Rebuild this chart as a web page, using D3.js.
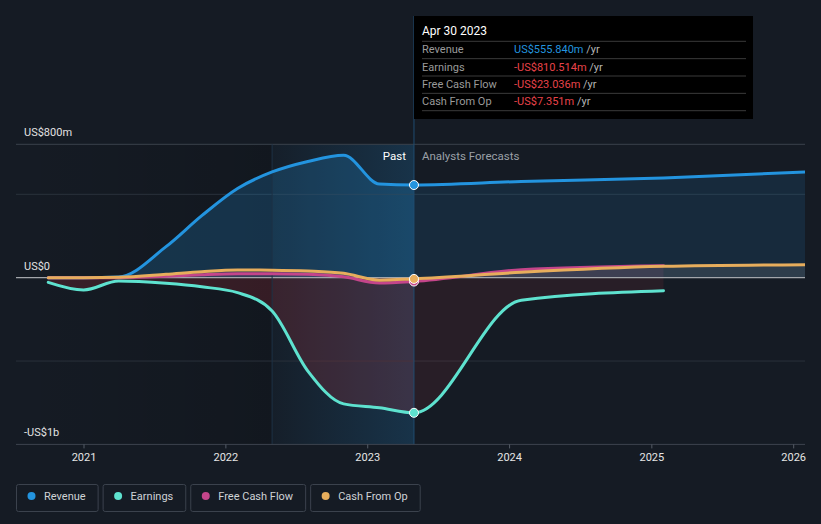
<!DOCTYPE html>
<html>
<head>
<meta charset="utf-8">
<script src="https://cdn.jsdelivr.net/npm/d3@7"></script>
<style>
  html, body { margin: 0; padding: 0; background: #151b24; }
  svg { display: block; font-family: Roboto, "Noto Sans", sans-serif; }
</style>
</head>
<body>
<svg id="chart" width="821" height="524"></svg>
<script>
// ---------- data ----------
const pastDates = ["2020-10-01","2020-12-31","2021-03-31","2021-07-31","2021-10-31","2022-01-31","2022-04-30","2022-07-31","2022-10-31","2023-01-31","2023-04-30"];
const revenuePast  = [0, 0, 4, 186, 372, 535, 634, 697, 734, 562, 555.84];
const earningsPast = [-28, -74, -20, -34, -55, -90, -200, -560, -757, -780, -810.514];
const fcfPast      = [0, 0, 0, 8, 18, 24, 24, 20, 5, -32, -23.036];
const cfoPast      = [0, 0, 2, 20, 36, 46, 45, 40, 26, -15, -7.351];

const revenueForecastDates = ["2023-04-30","2024-01-31","2025-01-31","2026-01-31"];
const revenueForecast      = [555.84, 577, 598, 634];
const earningsForecastDates = ["2023-04-30","2024-01-31","2025-01-31"];
const earningsForecast      = [-810.514, -135, -78];
const fcfForecastDates = ["2023-04-30","2024-01-31","2025-01-31"];
const fcfForecast      = [-23.036, 48, 72];
const cfoForecastDates = ["2023-04-30","2024-01-31","2025-01-31","2026-01-31"];
const cfoForecast      = [-7.351, 32, 68, 78];

const yearTicks = ["2021","2022","2023","2024","2025","2026"];
const yLabelValues = [800, 0, -1000];
const yLabelTexts = ["US$800m", "US$0", "-US$1b"];
const yGridValues = [800, 500, -500];

const seriesNames = ["Revenue", "Earnings", "Free Cash Flow", "Cash From Op"];
const seriesColors = ["#2394df", "#5ee2cf", "#c4458a", "#e7ad5c"];

const tooltipDate = "Apr 30 2023";
const tooltipValues = ["US$555.840m", "-US$810.514m", "-US$23.036m", "-US$7.351m"];
const currentDate = "2023-04-30";
const highlightStart = "2022-04-30";

// ---------- setup ----------
const parse = d3.timeParse("%Y-%m-%d");
const svg = d3.select("#chart");
const L = 16, R = 805, TOP = 144.3, BOT = 444.4;

const x = d3.scaleTime()
  .domain([parse("2021-01-01"), parse("2026-01-01")])
  .range([84, 793.7]);
const y = d3.scaleLinear().domain([-1000, 800]).range([BOT, TOP]);

const defs = svg.append("defs");
defs.append("clipPath").attr("id", "plotClip").append("rect")
  .attr("x", L).attr("y", 0).attr("width", R - L).attr("height", 524);
defs.append("clipPath").attr("id", "pastClip").append("rect")
  .attr("x", L).attr("y", 0).attr("width", x(parse(currentDate)) - L).attr("height", 524);
defs.append("clipPath").attr("id", "futClip").append("rect")
  .attr("x", x(parse(currentDate))).attr("y", 0).attr("width", R - x(parse(currentDate))).attr("height", 524);

const gDark = defs.append("linearGradient").attr("id", "gDark").attr("x1", 0).attr("x2", 1).attr("y1", 0).attr("y2", 0);
gDark.append("stop").attr("offset", 0).attr("stop-color", "#000").attr("stop-opacity", 0);
gDark.append("stop").attr("offset", 1).attr("stop-color", "#000").attr("stop-opacity", 0.14);

const gHi = defs.append("linearGradient").attr("id", "gHi").attr("x1", 0).attr("x2", 1).attr("y1", 0).attr("y2", 0);
gHi.append("stop").attr("offset", 0).attr("stop-color", "#2394df").attr("stop-opacity", 0.03);
gHi.append("stop").attr("offset", 1).attr("stop-color", "#2394df").attr("stop-opacity", 0.2);

const mk = (dates, vals) => dates.map((d, i) => ({ d: parse(d), v: vals[i] }));
const series = [
  mk(pastDates, revenuePast).concat(mk(revenueForecastDates, revenueForecast).slice(1)),
  mk(pastDates, earningsPast).concat(mk(earningsForecastDates, earningsForecast).slice(1)),
  mk(pastDates, fcfPast).concat(mk(fcfForecastDates, fcfForecast).slice(1)),
  mk(pastDates, cfoPast).concat(mk(cfoForecastDates, cfoForecast).slice(1))
];

const line = d3.line().x(p => x(p.d)).y(p => y(p.v)).curve(d3.curveMonotoneX);
const area = d3.area().x(p => x(p.d)).y0(y(0)).y1(p => y(p.v)).curve(d3.curveMonotoneX);

// ---------- background regions ----------
const xHs = x(parse(highlightStart)), xCur = x(parse(currentDate));
svg.append("rect").attr("x", L).attr("y", TOP).attr("width", xHs - L).attr("height", BOT - TOP).attr("fill", "url(#gDark)");
svg.append("rect").attr("x", xHs).attr("y", TOP).attr("width", xCur - xHs).attr("height", BOT - TOP).attr("fill", "url(#gHi)");

// gridlines
svg.append("g").selectAll("line").data(yGridValues).join("line")
  .attr("x1", L).attr("x2", R).attr("y1", d => y(d)).attr("y2", d => y(d))
  .attr("stroke", (d, i) => i === 0 ? "#3a414c" : "#2a313b").attr("stroke-width", 1);

// ---------- fills ----------
const fillCols = ["#2394df", "#d83a42", "#c4458a", "#fff0dc"];
const pastOp = [0.22, 0.18, 0.1, 0.06];
const futOp = [0.13, 0.1, 0.1, 0.1];
const fills = svg.append("g").attr("clip-path", "url(#plotClip)");
series.forEach((s, i) => {
  fills.append("path").attr("d", area(s)).attr("fill", fillCols[i]).attr("fill-opacity", pastOp[i]).attr("clip-path", "url(#pastClip)");
  fills.append("path").attr("d", area(s)).attr("fill", fillCols[i]).attr("fill-opacity", futOp[i]).attr("clip-path", "url(#futClip)");
});

// zero line
svg.append("line").attr("x1", L).attr("x2", R).attr("y1", y(0)).attr("y2", y(0))
  .attr("stroke", "#a3a6ab").attr("stroke-width", 1.3);

// vertical lines
svg.append("line").attr("x1", xHs).attr("x2", xHs).attr("y1", TOP).attr("y2", BOT)
  .attr("stroke", "#1d3246").attr("stroke-width", 1);
svg.append("line").attr("x1", xCur).attr("x2", xCur).attr("y1", 16).attr("y2", BOT)
  .attr("stroke", "#1f4c70").attr("stroke-width", 1);

// ---------- lines ----------
const lines = svg.append("g").attr("clip-path", "url(#plotClip)");
series.forEach((s, i) => {
  lines.append("path").attr("d", line(s)).attr("fill", "none")
    .attr("stroke", seriesColors[i]).attr("stroke-width", 3).attr("stroke-linecap", "round");
});

// dots at current date
const curVals = [revenuePast, earningsPast, fcfPast, cfoPast].map(a => a[a.length - 1]);
[0, 1, 2, 3].forEach(i => {
  svg.append("circle").attr("cx", xCur).attr("cy", y(curVals[i])).attr("r", 4.5)
    .attr("fill", seriesColors[i]).attr("stroke", "#fff").attr("stroke-width", 1);
});

// ---------- axes ----------
svg.append("line").attr("x1", L).attr("x2", R).attr("y1", BOT).attr("y2", BOT)
  .attr("stroke", "#3d444f").attr("stroke-width", 1);
const xt = svg.append("g");
yearTicks.forEach(t => {
  const xp = x(parse(t + "-01-01"));
  xt.append("line").attr("x1", xp).attr("x2", xp).attr("y1", BOT).attr("y2", BOT + 4)
    .attr("stroke", "#555c66").attr("stroke-width", 1);
  xt.append("text").attr("x", xp).attr("y", 461).attr("text-anchor", "middle")
    .attr("fill", "#e6e6e6").attr("font-size", 11).text(t);
});

svg.append("g").selectAll("text").data(yLabelValues).join("text")
  .attr("x", 24).attr("y", d => y(d) - 8)
  .attr("fill", "#e2e2e2").attr("font-size", 11).text((d, i) => yLabelTexts[i]);

// Past / Analysts Forecasts
svg.append("text").attr("x", xCur - 8).attr("y", 160).attr("text-anchor", "end")
  .attr("fill", "#ffffff").attr("font-size", 11.5).text("Past");
svg.append("text").attr("x", xCur + 8).attr("y", 160)
  .attr("fill", "#9ba0a7").attr("font-size", 11.5).text("Analysts Forecasts");

// ---------- tooltip ----------
const tt = svg.append("g");
tt.append("rect").attr("x", 414).attr("y", 16).attr("width", 339).attr("height", 103).attr("fill", "#000");
tt.append("text").attr("x", 422).attr("y", 35).attr("fill", "#fff").attr("font-size", 12).text(tooltipDate);
const rowY0 = 41.3, rowH = 17.35;
for (let i = 0; i < 5; i++) {
  tt.append("line").attr("x1", 422).attr("x2", 746).attr("y1", rowY0 + i * rowH).attr("y2", rowY0 + i * rowH)
    .attr("stroke", "#3a3a3a").attr("stroke-width", 1);
}
seriesNames.forEach((n, i) => {
  const by = rowY0 + i * rowH + 12;
  tt.append("text").attr("x", 422).attr("y", by).attr("fill", "#9a9a9a").attr("font-size", 11).text(n);
  const t = tt.append("text").attr("x", 514).attr("y", by).attr("font-size", 11);
  t.append("tspan").attr("fill", i === 0 ? "#2394df" : "#e8434a").text(tooltipValues[i]);
  t.append("tspan").attr("fill", "#b5b5b5").text(" /yr");
});

// ---------- legend ----------
const lg = svg.append("g");
let lx = 16;
seriesNames.forEach((n, i) => {
  const g = lg.append("g");
  const txt = g.append("text").attr("x", lx + 28).attr("y", 500).attr("fill", "#cfd2d6")
    .attr("font-size", 11).text(n);
  const w = txt.node().getComputedTextLength() + 28 + 12;
  g.insert("rect", "text").attr("x", lx + 0.5).attr("y", 484.5).attr("width", w).attr("height", 27)
    .attr("rx", 2).attr("fill", "none").attr("stroke", "#3b424d").attr("stroke-width", 1);
  g.append("circle").attr("cx", lx + 15.5).attr("cy", 496).attr("r", 4).attr("fill", seriesColors[i]);
  lx += w + 5;
});
</script>
</body>
</html>
